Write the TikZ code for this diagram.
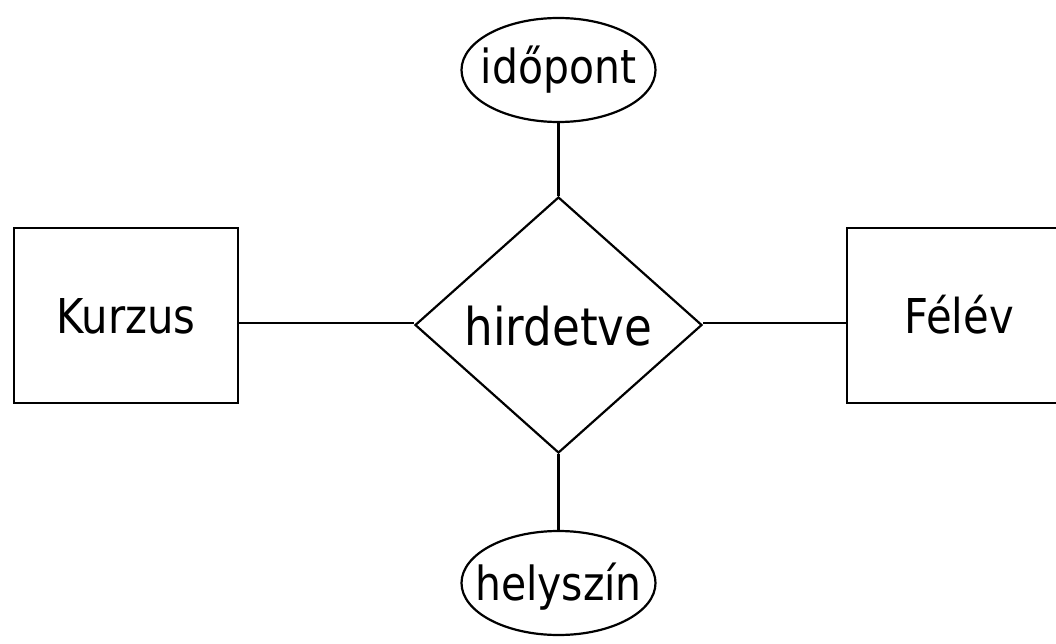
\documentclass[tikz,border=0pt]{standalone}
\usepackage{fontspec}
\setmainfont[FakeStretch=0.87]{DejaVu Sans}
\usetikzlibrary{shapes.geometric}
\begin{document}
\begin{tikzpicture}[x=1pt,y=-1pt,
  every node/.style={inner sep=0pt, text depth=0pt},
  entity/.style={draw, line width=2.2pt, rectangle, minimum width=224pt, minimum height=175pt, font=\fontsize{48}{56}\selectfont, text height=35pt},
  rel/.style={draw, line width=2.2pt, diamond, minimum width=287pt, minimum height=256pt, font=\fontsize{52}{60}\selectfont, text height=40pt},
  attr/.style={draw, line width=2.2pt, ellipse, minimum width=194pt, minimum height=104pt},
  attrtext/.style={font=\fontsize{47}{54}\selectfont},
  conn/.style={line width=2.2pt}]
\useasboundingbox (0,0) rectangle (1056,644);
\node[entity] (k) at (126,315.5) {Kurzus};
\node[entity] (f) at (959,315.5) {Félév};
\node[rel] (h) at (558.5,325) {hirdetve};
\node[attr, label={[attrtext, text height=27pt]center:időpont}] (i) at (558.5,70) {};
\node[attr, label={[attrtext, text height=34pt]center:helyszín}] (s) at (558.5,583) {};
\draw[conn] (k.east |- 0,323) -- (h.west |- 0,323);
\draw[conn] (h.east |- 0,323) -- (f.west |- 0,323);
\draw[conn] (i.south) -- (h.north);
\draw[conn] (h.south) -- (s.north);
\end{tikzpicture}
\end{document}
